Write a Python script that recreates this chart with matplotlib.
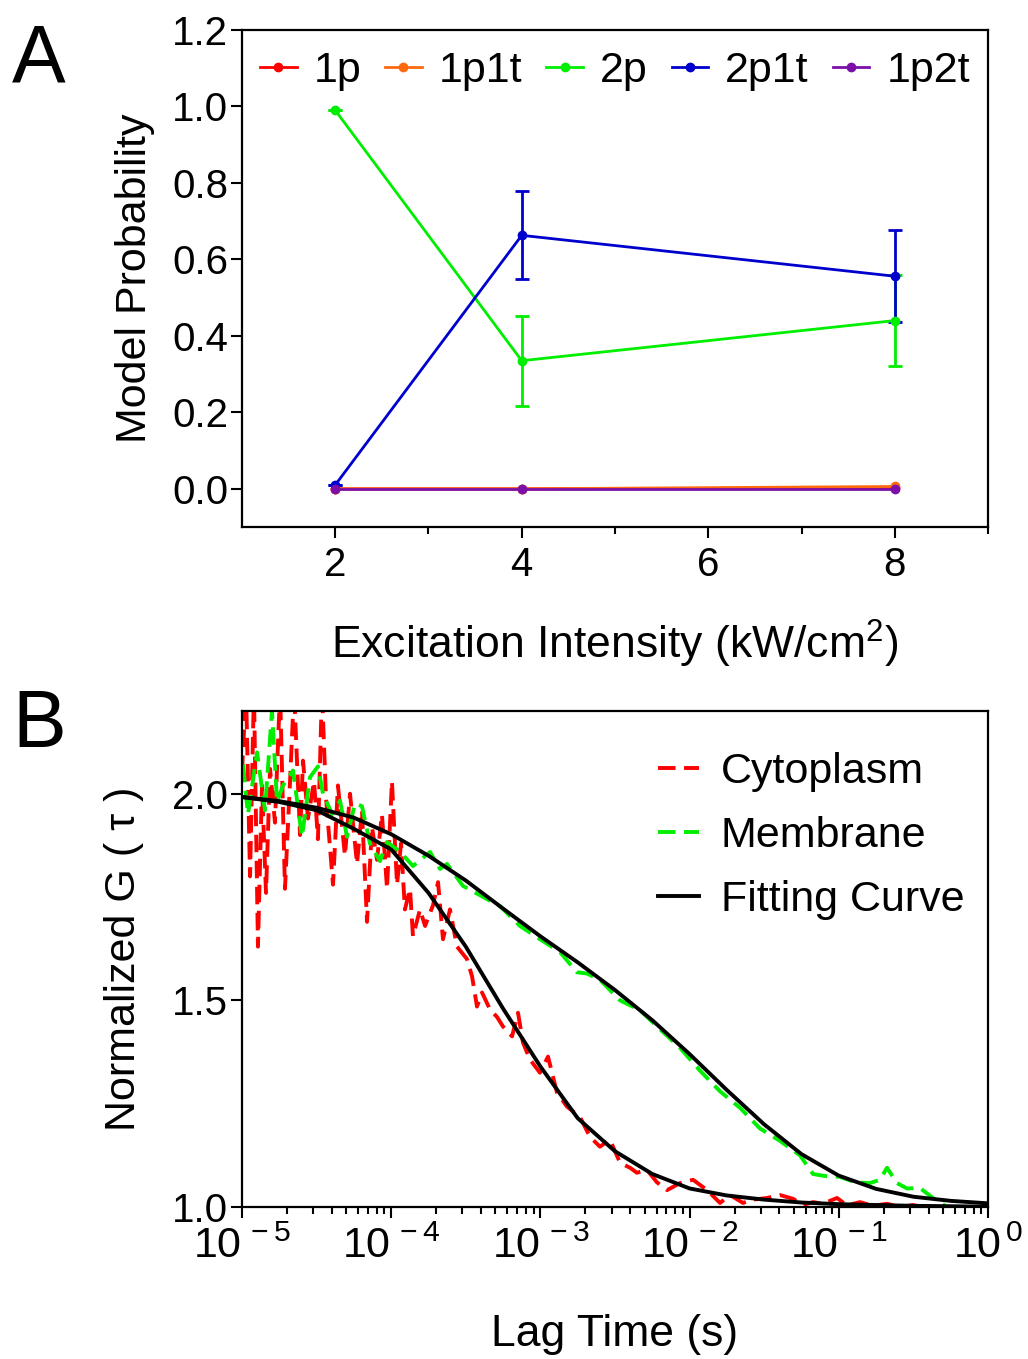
import numpy as np
import matplotlib
matplotlib.use("Agg")
import matplotlib.pyplot as plt
from matplotlib.ticker import LogLocator, NullFormatter, FixedLocator

plt.rcParams['font.family'] = ['Liberation Sans', 'DejaVu Sans']
plt.rcParams['mathtext.fontset'] = 'custom'
plt.rcParams['mathtext.rm'] = 'Liberation Sans'
plt.rcParams['mathtext.it'] = 'Liberation Sans'

# ---- panel A data
intensity = [2, 4, 8]
p_1p = [0.0, 0.0, 0.002]
p_1p1t = [0.0, 0.0, 0.006]
p_2p = [0.99, 0.335, 0.44]
p_2p_err = [0.0, 0.118, 0.12]
p_2p1t = [0.01, 0.663, 0.556]
p_2p1t_err = [0.0, 0.115, 0.12]
p_1p2t = [0.0, 0.0, 0.0]

# ---- panel B data (log10 of lag time in s)
fit_logt = [-5.0, -4.75, -4.5, -4.25, -4.0, -3.75, -3.5, -3.25, -3.0, -2.75, -2.5,
            -2.25, -2.0, -1.75, -1.5, -1.25, -1.0, -0.75, -0.5, -0.25, 0.0]
fit_cyto = [1.992, 1.980, 1.960, 1.915, 1.865, 1.760, 1.630, 1.480, 1.340, 1.215, 1.135,
            1.080, 1.045, 1.028, 1.018, 1.011, 1.007, 1.005, 1.003, 1.002, 1.001]
fit_memb = [1.992, 1.982, 1.966, 1.942, 1.902, 1.850, 1.790, 1.722, 1.655, 1.592, 1.525,
            1.452, 1.370, 1.283, 1.200, 1.128, 1.076, 1.044, 1.025, 1.015, 1.009]

cyto_logt = [-5.000, -4.973, -4.946, -4.920, -4.893, -4.866, -4.839, -4.812, -4.779, -4.745,
             -4.712, -4.678, -4.651, -4.611, -4.591, -4.558, -4.517, -4.491, -4.464, -4.437,
             -4.390, -4.357, -4.310, -4.276, -4.229, -4.196, -4.162, -4.129, -4.095, -4.062,
             -4.028, -3.995, -3.961, -3.934, -3.908, -3.874, -3.854, -3.807, -3.773, -3.720,
             -3.686, -3.653, -3.606, -3.559, -3.492, -3.458, -3.425, -3.391, -3.338, -3.291,
             -3.251, -3.190, -3.150, -3.117, -3.070, -3.003, -2.949, -2.889, -2.822, -2.735,
             -2.668, -2.601, -2.534, -2.466, -2.399, -2.353, -2.286, -2.219, -2.151, -2.064,
             -1.977, -1.883, -1.796, -1.729, -1.642, -1.575, -1.481, -1.394, -1.307, -1.240,
             -1.173, -1.106, -1.012, -0.945, -0.858, -0.771, -0.677, -0.590, -0.503, -0.416]
cyto_g = [2.05, 2.25, 1.80, 2.25, 1.63, 2.02, 1.76, 2.06, 1.93, 2.25,
          1.77, 2.03, 2.25, 1.90, 2.08, 1.94, 2.03, 1.89, 2.25, 1.99,
          1.78, 2.02, 1.85, 2.00, 1.83, 1.96, 1.69, 1.92, 1.84, 1.95,
          1.77, 2.03, 1.78, 1.88, 1.72, 1.77, 1.655, 1.72, 1.68, 1.73,
          1.786, 1.648, 1.72, 1.63, 1.60, 1.558, 1.485, 1.519, 1.478, 1.46,
          1.437, 1.413, 1.47, 1.398, 1.357, 1.325, 1.364, 1.277, 1.243, 1.218,
          1.17, 1.146, 1.163, 1.107, 1.095, 1.083, 1.09, 1.06, 1.041, 1.058,
          1.066, 1.041, 1.01, 1.029, 1.01, 1.018, 1.022, 1.029, 1.02, 1.005,
          1.012, 1.008, 1.022, 1.004, 1.012, 1.003, 1.008, 1.0, 1.005, 0.998]

memb_logt = [-4.993, -4.960, -4.899, -4.846, -4.799, -4.765, -4.725, -4.658, -4.598, -4.544,
             -4.491, -4.457, -4.397, -4.343, -4.296, -4.243, -4.196, -4.142, -4.075, -4.028,
             -3.941, -3.854, -3.740, -3.673, -3.626, -3.519, -3.358, -3.271, -3.137, -3.003,
             -2.869, -2.755, -2.688, -2.601, -2.466, -2.332, -2.198, -2.064, -1.930, -1.796,
             -1.662, -1.528, -1.394, -1.260, -1.173, -1.092, -0.992, -0.891, -0.791, -0.724,
             -0.677, -0.610, -0.543, -0.456, -0.369, -0.275]
memb_g = [2.07, 1.95, 2.10, 1.96, 2.20, 1.98, 2.02, 2.056, 1.896, 2.04,
          2.066, 2.00, 1.951, 1.983, 1.896, 1.976, 1.97, 1.879, 1.837, 1.883,
          1.86, 1.825, 1.859, 1.818, 1.83, 1.777, 1.745, 1.728, 1.68, 1.648,
          1.617, 1.568, 1.565, 1.55, 1.50, 1.476, 1.43, 1.385, 1.33, 1.28,
          1.24, 1.19, 1.16, 1.125, 1.08, 1.075, 1.073, 1.06, 1.058, 1.066,
          1.095, 1.058, 1.045, 1.046, 1.022, 1.00]

fs = 31      # labels / legend
tfs = 29     # tick labels

fig = plt.figure(figsize=(10.28, 13.59), dpi=100)

# ---------------- panel A
ax1 = fig.add_axes([0.2354, 0.6122, 0.7257, 0.3657])
ms = 6
lw = 2.0
c_1p, c_1p1t, c_2p, c_2p1t, c_1p2t = '#ff0000', '#ff6a10', '#00ee00', '#0000cc', '#7b0fa8'
ax1.errorbar(intensity, p_2p, yerr=p_2p_err, fmt='none', ecolor=c_2p,
             capsize=5, elinewidth=lw, capthick=lw)
ax1.errorbar(intensity, p_2p1t, yerr=p_2p1t_err, fmt='none', ecolor=c_2p1t,
             capsize=5, elinewidth=lw, capthick=lw)
ax1.plot(intensity, p_1p, '-o', color=c_1p, lw=lw, ms=ms, label='1p')
ax1.plot(intensity, p_1p1t, '-o', color=c_1p1t, lw=lw, ms=ms, label='1p1t')
ax1.plot(intensity, p_2p, '-o', color=c_2p, lw=lw, ms=ms, label='2p')
ax1.plot(intensity, p_2p1t, '-o', color=c_2p1t, lw=lw, ms=ms, label='2p1t')
ax1.plot(intensity, p_1p2t, '-o', color=c_1p2t, lw=lw, ms=ms, label='1p2t')

ax1.set_xlim(1, 9)
ax1.set_ylim(-0.1, 1.2)
ax1.xaxis.set_major_locator(FixedLocator([2, 4, 6, 8]))
ax1.xaxis.set_minor_locator(FixedLocator([3, 5, 7, 9]))
ax1.yaxis.set_major_locator(FixedLocator([0, 0.2, 0.4, 0.6, 0.8, 1.0, 1.2]))
ax1.set_yticklabels(['0.0', '0.2', '0.4', '0.6', '0.8', '1.0', '1.2'])
ax1.tick_params(axis='both', which='major', labelsize=tfs, length=8, width=1.5, direction='out', pad=6)
ax1.tick_params(axis='y', which='major', pad=2)
ax1.tick_params(axis='both', which='minor', length=5, width=1.5, direction='out')
for s in ax1.spines.values():
    s.set_linewidth(1.6)
ax1.set_xlabel('Excitation Intensity (kW/cm$^2$)', fontsize=fs + 1, labelpad=24)
ax1.set_ylabel('Model Probability', fontsize=fs, labelpad=12)
ax1.legend(loc='upper center', ncol=5, frameon=False, fontsize=fs,
           handlelength=0.85, handletextpad=0.4, columnspacing=0.55,
           bbox_to_anchor=(0.5, 1.035))
fig.text(0.012, 0.940, 'A', fontsize=58)

# ---------------- panel B
ax2 = fig.add_axes([0.2354, 0.1118, 0.7257, 0.3650])
dash = (4.5, 2.2)
ax2.plot(10.0 ** np.array(cyto_logt), cyto_g, '--', color='#ff0000', lw=2.8, dashes=dash,
         label='Cytoplasm')
ax2.plot(10.0 ** np.array(memb_logt), memb_g, '--', color='#00ee00', lw=2.8, dashes=dash,
         label='Membrane')
ax2.plot(10.0 ** np.array(fit_logt), fit_cyto, '-', color='black', lw=2.8, label='Fitting Curve')
ax2.plot(10.0 ** np.array(fit_logt), fit_memb, '-', color='black', lw=2.8)

ax2.set_xscale('log')
ax2.set_xlim(1e-5, 1)
ax2.set_ylim(1.0, 2.2)
ax2.xaxis.set_major_locator(FixedLocator([1e-5, 1e-4, 1e-3, 1e-2, 1e-1, 1]))
ax2.set_xticklabels(['10$^{\\,-5}$', '10$^{\\,-4}$', '10$^{\\,-3}$', '10$^{\\,-2}$',
                     '10$^{\\,-1}$', '10$^{\\,0}$'])
ax2.xaxis.set_minor_locator(LogLocator(base=10, subs=np.arange(2, 10), numticks=20))
ax2.xaxis.set_minor_formatter(NullFormatter())
ax2.yaxis.set_major_locator(FixedLocator([1.0, 1.5, 2.0]))
ax2.set_yticklabels(['1.0', '1.5', '2.0'])
ax2.tick_params(axis='both', which='major', labelsize=tfs + 2, length=8, width=1.5, direction='out', pad=6)
ax2.tick_params(axis='y', which='major', labelsize=tfs, pad=2)
ax2.tick_params(axis='both', which='minor', length=5, width=1.5, direction='out')
for s in ax2.spines.values():
    s.set_linewidth(1.6)
ax2.set_xlabel('Lag Time (s)', fontsize=fs + 1, labelpad=34)
ax2.set_ylabel('Normalized G ( \u03c4 )', fontsize=fs, labelpad=20)
ax2.legend(loc='upper right', frameon=False, fontsize=fs, handlelength=0.95,
           handletextpad=0.5, labelspacing=0.55, bbox_to_anchor=(1.02, 0.995))
fig.text(0.012, 0.450, 'B', fontsize=58)

fig.savefig('out.png', dpi=100)
